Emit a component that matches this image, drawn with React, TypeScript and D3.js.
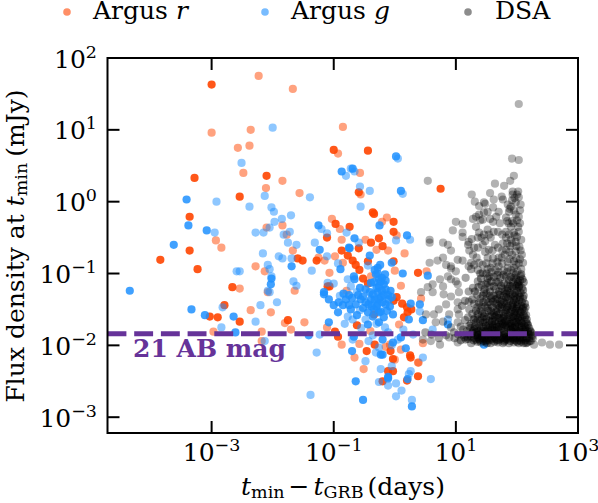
import React from 'react';
import * as d3 from 'd3';

// all values are [log10 t (days), log10 flux (mJy)]
const rFaint: number[][] = [
  [-2.23,1.75],[-1.67,1.57],[-3.0,0.96],[-2.36,1.0],[-2.57,0.75],[-2.38,0.78],[-2.48,0.40],[-2.11,0.19],[-1.84,0.29],[-1.56,0.12],
  [-0.85,1.04],[-0.93,0.67],[-1.03,-0.24],[-0.90,-0.38],[-0.87,-0.53],[-2.10,-0.36],[-1.84,-0.33],[-1.77,-0.46],[-2.93,-0.54],[-2.84,-0.64],
  [-1.67,-0.68],[-2.54,-1.21],[-2.28,-0.90],[-2.13,-0.97],[-2.08,-1.26],[-1.64,-1.24],[-2.36,-1.51],[-2.03,-1.54],[-1.80,-1.69],[-1.70,-1.78],
  [-1.48,-1.68],[-2.97,-1.81],[-2.18,-1.81],[-2.18,-1.94],[-1.11,-1.75],[-0.87,-1.99],[-0.98,-0.76],[-1.07,-0.99],[-0.79,-1.24],[-0.85,-0.85],
  [-1.25,-0.78],[-0.13,-0.22],[-0.21,-0.28],[0.03,-0.47],[-0.48,-0.53],[-0.30,-0.67],[-0.11,-0.68],[0.16,-0.72],[-1.15,-0.82],[0,-0.96],
  [0.10,-1.17],[-0.39,-1.04],[-0.57,0.40],[-0.56,0.10],[-0.51,-2.33],[-0.66,-2.17],[0.38,-2.24],[0.07,-1.71],[-0.08,-1.99],[0.10,-2.06],
  [0.52,-0.97],[0.46,-1.97],[0.39,-2.24],[0.43,-1.35],[-0.40,-1.80],[-0.15,-2.02],[-0.58,-1.98],[0.00,-2.20],
];
const rSolid: number[][] = [
  [-3.0,1.63],[-1.0,0.72],[-2.10,0.36],[-3.28,0.33],[-2.54,0.07],[-3.36,-0.21],[-0.97,-0.31],[-1.11,-0.50],[-0.74,-0.35],[-3.36,-0.68],
  [-0.87,-0.68],[-3.84,-0.81],[-3.23,-0.94],[-2.66,-1.19],[-2.79,-1.44],[-3.03,-1.60],[-2.90,-1.61],[-2.54,-1.67],[-1.75,-1.65],[-1.59,-0.79],
  [-1.51,-0.82],[-1.28,-0.82],[-1.10,-1.18],[-0.98,-1.81],[-0.93,-1.88],[-0.34,-0.17],[-0.02,-0.28],[-0.02,-0.42],[-0.39,-0.57],[-0.26,-0.51],
  [-0.20,-0.62],[-0.59,-0.65],[-0.77,-0.75],[-0.69,-0.82],[-0.64,-0.88],[-0.44,-0.83],[-0.02,-0.83],[0.38,-0.99],[-0.52,-1.07],[-0.44,-1.14],
  [-1.07,-1.18],[0.03,-1.33],[-0.02,-1.38],[-0.44,0.71],[0.75,0.18],[-0.36,-0.15],[-0.59,0.13],[-0.62,-1.72],[-0.46,-2.08],[-0.33,-1.99],
  [-0.03,-2.19],[0.26,-2.17],[0.38,-2.43],[-0.11,-2.36],[-0.03,-2.36],[0.20,-2.49],[-0.20,-2.50],[-0.34,-1.57],[0.21,-1.54],[0.15,-1.61],
  [-0.07,-2.08],[0.25,-2.14],[0.20,-1.47],[0.27,-1.50],[0.12,-1.42],[-0.58,-0.95],
];
const gFaint: number[][] = [
  [-2.0,1.03],[-2.51,0.54],[-0.80,0.36],[-0.72,0.46],[-2.92,0],[-2.13,0.08],[-1.39,0.06],[-2.38,-0.07],[-2.02,-0.08],[-1.98,-0.14],
  [-1.70,-0.19],[-1.85,-0.24],[-1.97,-0.28],[-2.05,-0.36],[-2.15,-0.43],[-2.28,-0.43],[-2.95,-0.43],[-1.72,-0.42],[-1.82,-0.46],[-1.75,-0.57],
  [-1.61,-0.60],[-1.31,-0.57],[-1.20,-0.38],[-1.11,-0.44],[-0.79,-0.43],[-2.16,-0.72],[-1.90,-0.76],[-1.84,-0.79],[-1.69,-0.79],[-2.08,-0.88],
  [-2.05,-0.94],[-2.02,-1.04],[-2.59,-0.97],[-2.54,-0.97],[-1.66,-1.11],[-1.61,-1.17],[-2.08,-1.24],[-2.05,-1.26],[-1.93,-1.40],[-2.20,-1.44],
  [-2.82,-1.47],[-2.28,-1.67],[-2.84,-1.75],[-2.13,-1.94],[-1.28,-2.10],[-1.38,-2.69],[-1.23,-1.85],[-1.36,-0.96],[-1.11,-0.76],[-0.93,-0.86],
  [-1.10,-1.13],[-1.0,-1.14],[-0.90,-1.31],[-0.77,-1.08],[-0.56,-0.07],[-0.59,-0.57],[0.02,-0.54],[0.25,-0.53],[-0.44,-0.89],[-0.72,-1.18],
  [0.05,0.60],[-0.66,0.42],[-0.57,0.21],[-0.41,0.15],[0.13,0.11],[-0.77,-1.60],[-0.57,-1.51],[-0.69,-1.92],[-0.43,-1.94],[-0.48,-2.22],
  [-0.23,-2.33],[-0.05,-2.29],[-0.26,-2.51],[-0.11,-2.56],[0.02,-2.53],[0.11,-2.63],[0.02,-2.71],[0.28,-2.76],[0.23,-2.40],[-0.31,-2.10],
  [0.05,-1.92],[-0.48,-1.64],[-0.69,-1.64],[-0.11,-1.82],[0.59,-2.47],[0.46,-2.17],[0.26,-2.36],[0.87,-1.64],[0.62,-1.78],[0.41,-1.53],
  [-0.62,-1.26],[-0.30,-1.70],[-0.55,-1.76],[-0.16,-1.75],[-0.82,-1.70],[-0.36,-1.86],[0.14,-1.78],[-0.05,-2.00],[0.30,-1.85],[-0.26,-2.03],
];
const gSolid: number[][] = [
  [-0.87,0.42],[-3.41,0.03],[-3.38,-0.33],[-3.08,-0.40],[-3.62,-0.60],[-1.25,-0.33],[-0.75,-0.64],[-1.23,-0.67],[-4.34,-1.24],[-3.33,-1.50],
  [-3.11,-1.58],[-2.64,-1.60],[-2.61,-1.82],[-1.69,-0.90],[-2.03,-1.15],[-2.02,-1.07],[-0.89,-0.94],[-1.08,-1.68],[-1.41,-1.86],[-1.16,-1.26],
  [-0.25,-0.33],[0.20,-0.47],[-0.66,-0.51],[-0.74,-0.65],[-0.41,-0.75],[-0.05,-0.85],[-0.28,-0.92],[0.13,-1.0],[-0.67,-1.04],[-0.26,-1.08],
  [-0.66,-1.08],[-0.39,-1.13],[-0.26,-1.18],[-0.18,-1.15],[-0.07,-1.24],[-0.28,-1.26],[-0.52,-1.32],[-0.39,-1.36],[-0.23,-1.33],[-0.15,-1.43],
  [-0.28,-1.43],[-0.48,-1.40],[-1.16,-1.29],[-1.08,-1.36],[-1.0,-1.44],[-0.85,-1.44],[-0.75,-1.44],[0.26,-1.42],[0.02,0.63],[-0.69,0.46],
  [0.10,0.15],[-0.64,-2.50],[-0.52,-2.76],[0.28,-2.85],[-0.93,-1.54],[-0.11,-2.44],[-0.70,-2.08],[-0.20,-2.13],[-0.03,-1.96],[0.18,-2.04],
  [-0.44,-1.71],[-0.26,-1.68],[-0.67,-1.88],[0.23,-1.64],[-0.43,-1.43],[-0.20,-1.92],[0.10,-1.89],[0.54,-1.03],[0.41,-1.43],[0.46,-1.65],
  [0.87,-1.71],[1.46,-1.99],[0.21,-2.47],[-0.11,-2.46],[-0.23,-2.13],[-0.34,-1.50],[-0.23,-1.53],[-0.15,-1.22],[-0.31,-1.01],[-0.16,-1.01],
  [-0.36,-1.29],[-0.23,-1.11],[-0.10,-1.36],[-0.56,-1.36],[-0.48,-1.22],[-0.64,-1.43],[-0.80,-1.36],[-0.72,-1.50],[-0.03,-1.57],[-0.18,-1.61],
  [-0.30,-1.20],[-0.21,-1.24],[-0.33,-1.36],[-0.18,-1.30],[-0.26,-1.36],[-0.38,-1.46],[-0.30,-1.46],[-0.20,-1.40],[-0.11,-1.30],[-0.41,-1.26],
  [-0.34,-1.12],[-0.21,-1.06],[-0.28,-1.00],[-0.26,-1.54],[-0.13,-1.52],[-0.44,-1.54],[-0.36,-1.60],[-0.52,-1.48],[-0.60,-1.30],[-0.70,-1.34],
  [-0.15,-1.10],[-0.33,-0.95],[-0.24,-0.88],[-0.75,-1.30],[-0.92,-1.40],[-0.57,-1.20],[-0.08,-1.46],[-0.05,-1.33],[-0.84,-1.28],[-0.62,-1.58],
];
const dsaSparse: number[][] = [
  [2.03,1.36],[1.92,0.60],[2.03,0.58],[1.95,0.36],[1.89,0.29],[1.79,0.22],[1.64,0.25],[0.54,0.29],[1.26,0.10],[1.31,0],
  [1.48,-0.03],[1.56,0.12],[1.62,0.03],[1.75,0.07],[1.38,-0.06],[1.61,-0.08],[1.0,-0.28],[1.11,-0.31],[0.95,-0.40],[1.11,-0.43],
  [1.11,-0.49],[0.57,-0.53],[0.57,-0.57],[0.79,-0.57],[0.87,-0.60],[0.92,-0.68],[0.70,-0.82],[0.79,-0.78],[0.57,-0.85],[0.84,-0.88],
  [0.92,-0.90],[0.92,-0.93],[1.0,-0.97],[0.74,-1.08],[0.62,-1.15],[0.54,-1.19],[0.62,-1.26],[0.43,-1.26],[0.79,-1.18],[0.87,-1.04],
  [0.92,-1.08],[1.0,-1.11],[1.03,-1.15],[0.80,-1.29],[0.92,-1.32],[1.05,-1.26],[1.03,-1.40],[0.84,-1.43],[0.72,-1.50],[0.64,-1.57],
  [0.51,-1.57],[1.03,-1.50],[1.05,-1.57],[0.89,-1.57],[0.79,-1.67],[0.67,-1.68],[0.92,-1.75],[1.03,-1.68],[0.74,-1.99],[0.89,-1.89],
  [1.03,-1.96],[2.41,-1.96],[2.54,-1.99],[2.69,-1.99],[0.46,-1.92],[0.59,-1.94],[2.28,-1.99],[2.23,-1.94],
];
const dsaUpper: number[][] = [
  [1.33,-0.35],[1.46,-0.15],[1.38,-0.18],[1.52,-0.14],[1.33,-0.21],[1.28,-0.24],[1.44,-0.25],[1.46,-0.01],[1.70,-0.14],[1.66,-0.21],
  [1.61,-0.28],[1.77,0.03],[1.85,-0.04],[1.93,0.14],[2.02,0.14],[1.93,0.1],[2.03,0.06],[1.98,-0.01],[1.87,-0.14],[1.98,-0.18],
  [1.82,-0.22],[2.03,-0.21],[1.90,-0.35],[2.02,-0.35],[1.82,-0.42],[1.95,-0.43],[2.03,-0.42],[1.90,-0.53],[1.98,-0.56],[2.07,-0.53],
  [1.82,-0.5],[1.52,-0.39],[1.69,-0.42],[1.54,-0.46],[1.57,-0.5],[1.38,-0.43],[1.21,-0.56],[1.20,-0.6],[1.44,-0.6],[1.30,-0.64],
  [1.54,-0.67],[1.69,-0.64],[1.82,-0.67],[1.98,-0.69],[2.08,-0.74],[1.70,-0.78],[1.61,-0.79],[1.95,-0.83],[1.75,-0.78],[1.11,-0.82],
  [1.03,-0.81],[1.25,-0.85],[1.38,-0.85],[1.52,-0.78],[1.28,-0.74],[1.36,-0.64],[1.46,-0.46],[1.21,-0.90],[1.95,-0.92],[2.10,-0.85],
  [1.70,-0.90],[1.57,-0.92],[1.85,-0.92],[1.89,-0.62],[2.04,-0.63],[1.77,-0.58],[1.92,-0.27],[2.05,-0.12],[1.88,-0.80],[2.03,-0.86],
  [1.96,0.05],[1.90,-0.07],[2.00,-0.26],[1.86,-0.30],[1.96,-0.47],[1.84,-0.58],[1.99,-0.62],[2.06,-0.68],[1.92,-0.74],[1.80,-0.74],
  [1.64,-0.60],[1.48,-0.70],[1.34,-0.78],[1.42,-0.50],[1.22,-0.68],[1.60,-0.86],[1.76,-0.86],[1.99,-0.79],[2.07,-0.94],[1.44,-0.88],
  [1.92,0.02],[2.00,0.10],[1.88,-0.10],[1.95,-0.12],[2.06,-0.04],[1.84,-0.27],[1.94,-0.30],[2.05,-0.30],[1.87,-0.46],[2.00,-0.49],
  [1.76,-0.46],[1.62,-0.42],[1.48,-0.55],[1.36,-0.50],[1.26,-0.52],[1.60,-0.68],[1.76,-0.68],[1.88,-0.70],[2.05,-0.80],[1.68,-0.84],
  [1.50,-0.86],[1.30,-0.88],[1.85,-0.84],[1.98,-0.88],[1.92,-0.58],[1.40,-0.26],[1.56,-0.24],[1.72,-0.30],[1.90,-0.95],[1.78,-0.96],
  [1.65,-0.95],[1.52,-0.94],[1.36,-0.95],[2.01,-0.97],[1.84,-0.98],[1.70,-0.98],[1.58,-0.98],[1.94,-0.99],
];
const dsaLower: number[][] = [
  [1.21,-1.25],[1.21,-1.39],[1.36,-1.11],[1.52,-1.13],[1.44,-0.99],[1.25,-0.94],[1.16,-1.06],[1.20,-1.61],[1.36,-1.64],[1.98,-1.02],
  [2.05,-1.10],[1.90,-1.05],[1.78,-1.02],[1.62,-1.05],[1.50,-1.00],[1.70,-1.12],[1.85,-1.15],[2.08,-1.20],[1.95,-1.22],[1.55,-1.18],
  [1.42,-1.16],[1.65,-1.22],[1.80,-1.25],[2.03,-1.30],[2.10,-1.35],[1.90,-1.32],[1.72,-1.30],[1.50,-1.28],[1.35,-1.30],[1.28,-1.20],
  [1.58,-1.35],[1.98,-1.40],[2.07,-1.45],[1.83,-1.42],[1.66,-1.42],[1.45,-1.40],[1.30,-1.42],[1.15,-1.38],[1.52,-1.48],[1.75,-1.50],
  [1.92,-1.50],[2.02,-1.55],[2.12,-1.52],[1.62,-1.55],[1.40,-1.52],[1.22,-1.50],[1.10,-1.45],[1.85,-1.58],[2.08,-1.62],[1.96,-1.62],
  [1.72,-1.62],[1.55,-1.60],[1.32,-1.62],[2.15,-1.68],[2.03,-1.70],[1.90,-1.70],[1.80,-1.68],[1.65,-1.70],[1.48,-1.68],[1.38,-1.72],
  [1.25,-1.70],[1.15,-1.65],[2.20,-1.76],[2.10,-1.78],[1.98,-1.78],[1.85,-1.76],[1.70,-1.78],[1.58,-1.78],[1.44,-1.80],[1.30,-1.78],
  [1.18,-1.80],[1.08,-1.74],[0.97,-1.82],[2.24,-1.85],[2.14,-1.86],[2.02,-1.86],[1.92,-1.85],[1.78,-1.86],[1.64,-1.84],[1.50,-1.86],
  [1.36,-1.86],[1.22,-1.85],[1.10,-1.86],[0.98,-1.90],[0.84,-1.86],[0.72,-1.90],[0.60,-1.85],[0.50,-1.82],[1.16,-1.92],[1.25,-1.97],
  [1.33,-1.92],[1.41,-1.96],[1.49,-1.95],[1.57,-1.97],[1.69,-1.96],[1.77,-1.97],[1.87,-1.97],[1.95,-1.96],[2.03,-1.97],[2.11,-1.97],
  [2.06,-1.04],[1.93,-1.12],[1.73,-1.06],[1.58,-1.11],[1.47,-1.22],[1.88,-1.27],[2.00,-1.24],[1.76,-1.37],[1.62,-1.31],[1.40,-1.35],
  [2.04,-1.37],[1.92,-1.44],[1.80,-1.47],[1.57,-1.43],[1.35,-1.47],[1.99,-1.49],[2.15,-1.58],[1.88,-1.55],[1.68,-1.49],[1.47,-1.56],
  [1.27,-1.56],[2.05,-1.60],[1.78,-1.56],[1.60,-1.64],[1.43,-1.62],[2.12,-1.72],[1.95,-1.68],[1.84,-1.64],[1.70,-1.68],[1.53,-1.72],
  [1.33,-1.68],[2.18,-1.81],[2.06,-1.76],[1.93,-1.76],[1.76,-1.73],[1.63,-1.76],[1.50,-1.79],[1.37,-1.80],[1.24,-1.76],[2.20,-1.90],
  [2.09,-1.92],[1.98,-1.90],[1.86,-1.90],[1.73,-1.91],[1.60,-1.90],[1.46,-1.91],[1.30,-1.90],[1.12,-1.78],[1.04,-1.85],[2.26,-1.90],
];
// the nearly black block under 0.1 mJy, on top of dsaLower
const dsaBlock: number[][] = [
  [2.09,-1.08],[2.01,-1.15],[1.87,-1.09],[1.74,-1.17],[1.96,-1.32],[2.06,-1.27],[1.82,-1.33],[1.68,-1.35],[2.13,-1.42],[2.01,-1.43],
  [1.88,-1.38],[1.75,-1.43],[1.60,-1.47],[1.48,-1.46],[2.09,-1.50],[1.96,-1.55],[1.83,-1.51],[1.71,-1.56],[1.58,-1.53],[2.16,-1.64],
  [2.02,-1.62],[1.91,-1.61],[1.77,-1.62],[1.64,-1.60],[1.50,-1.63],[2.18,-1.72],[2.08,-1.69],[1.97,-1.72],[1.86,-1.70],[1.73,-1.71],
  [1.60,-1.71],[1.44,-1.74],[1.31,-1.74],[2.22,-1.80],[2.12,-1.81],[2.01,-1.80],[1.90,-1.78],[1.79,-1.80],[1.66,-1.80],[1.54,-1.82],
  [1.41,-1.83],[1.27,-1.83],[2.25,-1.87],[2.16,-1.90],[2.05,-1.89],[1.95,-1.88],[1.83,-1.88],[1.71,-1.87],[1.57,-1.87],[1.43,-1.88],
  [1.32,-1.86],[1.19,-1.88],[2.17,-1.96],[2.07,-1.95],[1.97,-1.93],[1.89,-1.94],[1.80,-1.93],[1.67,-1.93],[1.54,-1.93],[1.39,-1.93],
  [2.11,-1.12],[2.03,-1.19],[1.92,-1.18],[1.79,-1.14],[1.66,-1.12],[1.52,-1.07],[1.41,-1.07],[1.99,-1.08],[1.85,-1.21],[1.71,-1.25],
  [1.56,-1.25],[1.44,-1.31],[1.99,-1.35],[2.11,-1.31],[1.86,-1.45],[1.73,-1.39],[1.61,-1.39],[1.50,-1.36],[1.38,-1.41],[2.06,-1.54],
  [1.94,-1.47],[1.81,-1.54],[1.66,-1.53],[1.53,-1.52],[1.43,-1.56],[2.11,-1.58],[1.99,-1.58],[1.88,-1.63],[1.75,-1.66],[1.59,-1.67],
  [1.45,-1.68],[2.14,-1.75],[2.04,-1.73],[1.92,-1.73],[1.81,-1.72],[1.67,-1.74],[1.56,-1.75],[1.41,-1.77],[1.28,-1.80],[2.19,-1.84],
  [2.08,-1.84],[1.97,-1.83],[1.87,-1.82],[1.74,-1.83],[1.61,-1.84],[1.47,-1.84],[1.33,-1.82],[1.20,-1.91],[2.14,-1.93],[2.04,-1.93],
  [1.94,-1.92],[1.84,-1.92],[1.70,-1.93],[1.58,-1.92],[1.45,-1.94],[1.35,-1.95],[2.00,-1.95],[1.79,-1.95],[1.63,-1.95],[1.51,-1.97],
  [2.04,-1.17],[1.97,-1.27],[1.83,-1.28],[1.94,-1.42],[1.79,-1.40],[2.10,-1.47],[1.97,-1.52],[1.84,-1.47],[1.70,-1.45],[2.03,-1.65],
  [1.93,-1.66],[1.77,-1.70],[1.64,-1.66],[2.08,-1.74],[1.97,-1.75],[1.83,-1.74],[1.70,-1.74],[1.53,-1.77],[2.12,-1.84],[2.00,-1.83],
  [1.88,-1.87],[1.76,-1.89],[1.62,-1.87],[1.48,-1.89],[1.36,-1.89],[2.06,-1.90],[1.94,-1.90],[1.82,-1.91],[1.66,-1.91],[1.52,-1.90],
  [2.07,-1.01],[1.95,-1.06],[1.82,-1.04],[1.68,-1.02],[1.55,-1.04],[1.40,-1.00],[2.02,-1.12],[1.89,-1.17],[1.76,-1.21],[1.62,-1.18],
  [1.49,-1.15],[1.37,-1.19],[2.10,-1.23],[1.98,-1.17],[1.84,-1.24],[1.69,-1.29],[1.56,-1.31],[1.46,-1.26],[1.31,-1.25],[1.27,-1.36],
  [2.05,-1.33],[1.93,-1.29],[1.78,-1.31],[1.65,-1.36],[1.53,-1.40],[1.42,-1.46],[1.33,-1.52],[2.08,-1.40],[1.95,-1.37],[1.85,-1.35],
  [1.72,-1.47],[1.59,-1.58],[1.46,-1.60],[1.36,-1.57],[2.14,-1.47],[2.00,-1.46],[1.90,-1.53],[1.79,-1.60],[1.67,-1.58],[1.55,-1.66],
  [1.40,-1.66],[1.29,-1.64],[2.13,-1.61],[2.04,-1.52],[1.94,-1.60],[1.82,-1.66],[1.70,-1.62],[1.60,-1.75],[1.49,-1.73],[1.35,-1.76],
  [1.22,-1.73],[2.17,-1.70],[2.06,-1.66],[1.99,-1.68],[1.89,-1.74],[1.75,-1.77],[1.63,-1.79],[1.48,-1.81],[1.38,-1.85],[1.25,-1.88],
  [2.23,-1.82],[2.14,-1.79],[2.04,-1.81],[1.93,-1.81],[1.81,-1.84],[1.68,-1.84],[1.55,-1.85],[1.42,-1.90],[1.29,-1.93],[2.21,-1.94],
  [2.10,-1.89],[2.00,-1.88],[1.90,-1.89],[1.78,-1.90],[1.64,-1.89],[1.50,-1.93],[1.38,-1.91],[1.14,-1.89],[1.08,-1.93],[2.15,-1.97],
];
const xTickExps = [-3, -1, 1, 3];
const yTickExps = [-3, -2, -1, 0, 1, 2];
const legendItems = [
  { name: 'Argus ', em: 'r', color: '#ff4500', opacity: 0.6, cx: 67, tx: 93 },
  { name: 'Argus ', em: 'g', color: '#1e90ff', opacity: 0.6, cx: 265, tx: 291 },
  { name: 'DSA', em: '', color: '#000000', opacity: 0.45, cx: 468, tx: 495 },
];
const mag21 = 0.0145;

const left = 107.5;
const right = 578;
const top = 58;
const bottom = 433;
const serif = '"DejaVu Serif", serif';

const x = d3.scaleLog().domain([10 ** -4.705, 1000]).range([left, right]);
const y = d3.scaleLog().domain([10 ** -3.22, 100]).range([bottom, top]);

function Dots({ data, color, opacity }: { data: number[][]; color: string; opacity: number }) {
  return (
    <g fill={color} fillOpacity={opacity}>
      {data.map((d, i) => (
        <circle key={i} cx={x(10 ** d[0])} cy={y(10 ** d[1])} r={4.1} />
      ))}
    </g>
  );
}

function Power({ exp, px, py, anchor }: { exp: number; px: number; py: number; anchor: string }) {
  return (
    <text x={px} y={py} textAnchor={anchor} fontSize={25} fill="#000">
      10
      <tspan dy={-10} fontSize={17.5}>{exp < 0 ? `\u2212${-exp}` : exp}</tspan>
    </text>
  );
}

export default function App() {
  return (
    <svg
      width={598}
      height={503}
      style={{ position: 'absolute', left: 0, top: 0, background: '#fff' }}
      fontFamily={serif}
    >
      <Dots data={rFaint} color="#ff4500" opacity={0.5} />
      <Dots data={rSolid} color="#ff4500" opacity={0.9} />
      <Dots data={gFaint} color="#1e90ff" opacity={0.5} />
      <Dots data={gSolid} color="#1e90ff" opacity={0.85} />
      <Dots data={dsaSparse} color="#000" opacity={0.3} />
      <Dots data={dsaUpper} color="#000" opacity={0.32} />
      <Dots data={dsaLower} color="#000" opacity={0.36} />
      <Dots data={dsaBlock} color="#000" opacity={0.42} />

      <line
        x1={left} x2={right} y1={y(mag21)} y2={y(mag21)}
        stroke="#663399" strokeWidth={5} strokeDasharray="18.9 7.8"
      />
      <text x={133} y={357} fontSize={25} fontWeight="bold" fill="#663399">21 AB mag</text>

      <rect x={left} y={top} width={right - left} height={bottom - top} fill="none" stroke="#000" strokeWidth={2} />
      {xTickExps.map((e) => (
        <g key={e} stroke="#000" strokeWidth={2}>
          <line x1={x(10 ** e)} x2={x(10 ** e)} y1={bottom} y2={bottom - 12} />
          <line x1={x(10 ** e)} x2={x(10 ** e)} y1={top} y2={top + 12} />
        </g>
      ))}
      {yTickExps.map((e) => (
        <g key={e} stroke="#000" strokeWidth={2}>
          <line x1={left} x2={left + 12} y1={y(10 ** e)} y2={y(10 ** e)} />
          <line x1={right} x2={right - 12} y1={y(10 ** e)} y2={y(10 ** e)} />
        </g>
      ))}
      {xTickExps.map((e) => (
        <Power key={e} exp={e} px={x(10 ** e)} py={461} anchor="middle" />
      ))}
      {yTickExps.map((e) => (
        <Power key={e} exp={e} px={97} py={y(10 ** e) + 9.5} anchor="end" />
      ))}

      <text x={343} y={495} textAnchor="middle" fontSize={25}>
        <tspan fontStyle="italic">t</tspan>
        <tspan dy={2.5} fontSize={17.5}>min</tspan>
        <tspan dy={-2.5} dx={4}>{'\u2212'}</tspan>
        <tspan dx={4} fontStyle="italic">t</tspan>
        <tspan dy={2.5} fontSize={17.5}>GRB</tspan>
        <tspan dy={-2.5} dx={4}>(days)</tspan>
      </text>
      <text transform="translate(24,246) rotate(-90)" textAnchor="middle" fontSize={25}>
        Flux density at <tspan fontStyle="italic">t</tspan>
        <tspan dy={3} fontSize={17.5}>min</tspan>
        <tspan dy={-3} dx={6}>(mJy)</tspan>
      </text>

      {legendItems.map((l) => (
        <g key={l.cx}>
          <circle cx={l.cx} cy={12} r={3.8} fill={l.color} fillOpacity={l.opacity} />
          <text x={l.tx} y={19} fontSize={25}>
            {l.name}
            <tspan fontStyle="italic">{l.em}</tspan>
          </text>
        </g>
      ))}
    </svg>
  );
}
